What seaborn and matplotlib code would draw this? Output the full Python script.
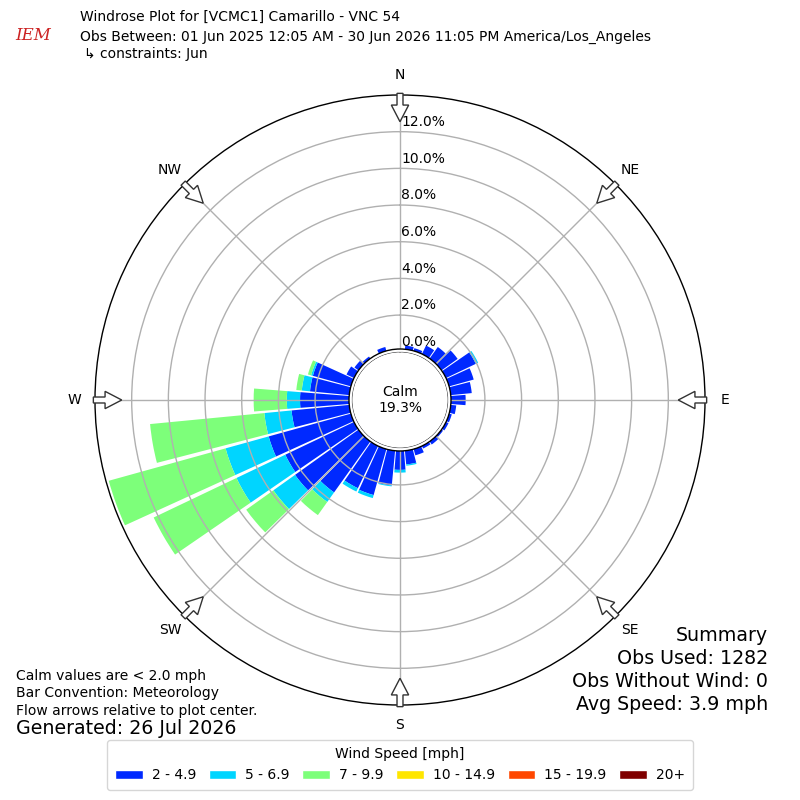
import numpy as np
import pandas as pd
import matplotlib
matplotlib.use('Agg')
import matplotlib.pyplot as plt
from matplotlib.patches import Circle, FancyArrow, Patch
import seaborn as sns

# direction bins, degrees from North, clockwise (direction wind comes from)
directions = np.arange(0, 360, 10)

# percent of all observations per direction and speed class
pct_2_5 = [0.15, 0.35, 0.30, 0.66, 0.92, 1.23, 1.95, 1.54, 1.30, 0.95,
           0.45, 0.30, 0.30, 0.25, 0.35, 0.30, 0.50, 0.90, 1.18, 2.05,
           2.75, 2.70, 3.56, 4.40, 4.30, 4.80, 3.31, 2.82, 2.30, 2.30,
           0.60, 0.42, 0.28, 0.15, 0.37, 0.15]
pct_5_7 = [0.00, 0.00, 0.00, 0.00, 0.00, 0.00, 0.14, 0.00, 0.00, 0.00,
           0.00, 0.00, 0.00, 0.00, 0.00, 0.00, 0.00, 0.07, 0.15, 0.05,
           0.17, 0.20, 0.64, 1.45, 2.95, 2.44, 1.49, 0.72, 0.45, 0.10,
           0.00, 0.00, 0.00, 0.00, 0.00, 0.00]
pct_7_10 = [0.00] * 22 + [0.88, 1.82, 5.00, 6.61, 6.26, 1.81, 0.30, 0.18] + [0.00] * 6
pct_10_15 = [0.0] * 36
pct_15_20 = [0.0] * 36
pct_20_up = [0.0] * 36

speed_labels = ['2 - 4.9', '5 - 6.9', '7 - 9.9', '10 - 14.9', '15 - 19.9', '20+']
compass = ['N', 'NE', 'E', 'SE', 'S', 'SW', 'W', 'NW']
rticks = [0, 2, 4, 6, 8, 10, 12]
calm_pct = 19.3

title_lines = [
    'Windrose Plot for [VCMC1] Camarillo - VNC 54',
    'Obs Between: 01 Jun 2025 12:05 AM - 30 Jun 2026 11:05 PM America/Los_Angeles',
]
constraint_line = '\u21b3 constraints: Jun'
notes = ['Calm values are < 2.0 mph', 'Bar Convention: Meteorology',
         'Flow arrows relative to plot center.']
generated = 'Generated: 26 Jul 2026'
summary = ['Summary', 'Obs Used: 1282', 'Obs Without Wind: 0', 'Avg Speed: 3.9 mph']

df = pd.DataFrame({'direction': directions,
                   speed_labels[0]: pct_2_5, speed_labels[1]: pct_5_7,
                   speed_labels[2]: pct_7_10, speed_labels[3]: pct_10_15,
                   speed_labels[4]: pct_15_20, speed_labels[5]: pct_20_up})

sns.set_style('white')
plt.rcParams['font.family'] = ['DejaVu Sans']
plt.rcParams['text.color'] = 'black'
plt.rcParams['xtick.color'] = 'black'
plt.rcParams['ytick.color'] = 'black'
plt.rcParams['legend.labelcolor'] = 'black'
colors = plt.cm.jet(np.arange(1, 7) / 6.0)

fig = plt.figure(figsize=(8, 8), dpi=100)
ax = fig.add_axes([0.11875, 0.11875, 0.7625, 0.7625], projection='polar')
ax.set_theta_zero_location('N')
ax.set_theta_direction(-1)

theta = np.deg2rad(df['direction'].values)
bottom = np.zeros(len(df))
for lbl, c in zip(speed_labels, colors):
    vals = df[lbl].values
    ax.bar(theta, vals, width=np.deg2rad(9), bottom=bottom, color=c,
           linewidth=0, zorder=1)
    bottom += vals

ax.set_ylim(0, 14)
ax.set_rorigin(-2.63)
ax.set_yticks(rticks)
ax.set_yticklabels([])
for v in rticks:
    ax.annotate(f'{v:.1f}%', xy=(0, v), xytext=(1, 2), textcoords='offset points',
                ha='left', va='bottom', fontsize=10, color='black', zorder=6)

ax.set_xticks(np.deg2rad(np.arange(0, 360, 45)))
ax.set_xticklabels(compass, fontsize=10, color='black')
ax.tick_params(axis='x', pad=4)
ax.grid(True, color='#b0b0b0', lw=1)
ax.set_axisbelow(False)
ax.spines['polar'].set_color('black')
ax.spines['polar'].set_linewidth(1)

# calm hole
ax.add_patch(Circle((0.5, 0.5), 0.0836, transform=ax.transAxes, facecolor='white',
                    edgecolor='black', lw=1, zorder=4))
ax.text(0.5, 0.5, f'Calm\n{calm_pct:.1f}%', transform=ax.transAxes, ha='center',
        va='center', fontsize=10, zorder=5)

# flow arrows
for ang in np.deg2rad(np.arange(0, 360, 45)):
    r0, length = 0.5027, 0.0465
    ax.add_patch(FancyArrow(0.5 + r0 * np.sin(ang), 0.5 + r0 * np.cos(ang),
                            -length * np.sin(ang), -length * np.cos(ang),
                            width=0.0098, head_width=0.0284, head_length=0.0273,
                            length_includes_head=True, transform=ax.transAxes,
                            facecolor='white', edgecolor='#333333', lw=1,
                            clip_on=False, zorder=6))

# header
fig.text(0.041, 0.955, 'IEM', color='#cc2222', fontsize=12, style='italic',
         family='DejaVu Serif', ha='center', va='center')
fig.text(0.1, 0.979, title_lines[0], fontsize=10, va='center')
fig.text(0.1, 0.954, title_lines[1], fontsize=10, va='center')
fig.text(0.105, 0.9325, constraint_line, fontsize=10, va='center')

for i, line in enumerate(notes):
    fig.text(0.02, 0.155 - i * 0.0218, line, fontsize=10, va='center')
fig.text(0.02, 0.089, generated, fontsize=13.7, va='center')

for i, line in enumerate(summary):
    fig.text(0.96, 0.206 - i * 0.029, line, fontsize=13.7, ha='right', va='center')

handles = [Patch(facecolor=c, label=l) for l, c in zip(speed_labels, colors)]
fig.legend(handles=handles, loc='lower center', bbox_to_anchor=(0.5, 0.0125),
           borderaxespad=0, ncol=6, title='Wind Speed [mph]', fontsize=10,
           title_fontsize=10, handletextpad=0.65, columnspacing=0.9,
           borderpad=0.55)

fig.savefig('out.png', dpi=100)
